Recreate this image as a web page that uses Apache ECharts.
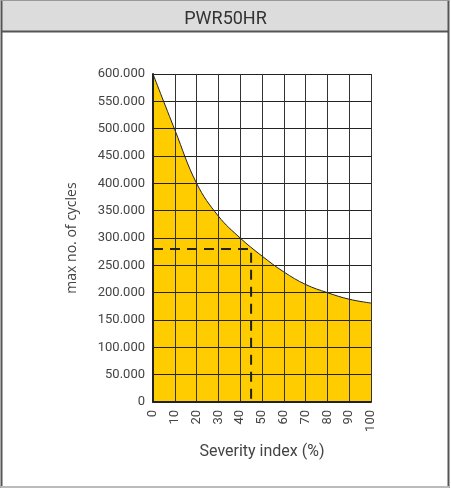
<!DOCTYPE html>
<html>
<head>
<meta charset="utf-8">
<script src="https://cdn.jsdelivr.net/npm/echarts@6/dist/echarts.min.js"></script>
<style>
  html, body { margin: 0; padding: 0; background: #fff; }
  #chart { width: 451px; height: 488px; }
</style>
</head>
<body>
<div id="chart"></div>
<script>
// severity index (%) and max number of cycles
const severity = [0, 10, 20, 30, 40, 50, 60, 70, 80, 90, 100];
const maxCycles = [600000, 498000, 400000, 340000, 300000, 267000, 238000, 215000, 200000, 188000, 181000];
// dashed reading guide: 45 % -> 280.000 cycles
const guideX = [0, 45, 45];
const guideY = [280000, 280000, 0];

const chart = echarts.init(document.getElementById('chart'));

// 600000 -> "600.000"
const fmtDots = v => String(v).replace(/\B(?=(\d{3})+(?!\d))/g, '.');

const option = {
  animation: false,
  title: {
    text: 'PWR50HR',
    left: 'center',
    top: 5,
    textStyle: { fontFamily: 'Roboto', fontSize: 18, fontWeight: 'normal', color: '#333' }
  },
  graphic: [
    // title band
    { type: 'rect', z: -10, shape: { x: 1, y: 0, width: 448, height: 31 },
      style: { fill: '#dcdcdc', stroke: null } },
    { type: 'line', z: -9, shape: { x1: 1, y1: 31.5, x2: 449, y2: 31.5 },
      style: { stroke: '#555', lineWidth: 2 } },
    // outer frame
    { type: 'line', z: -9, shape: { x1: 1.5, y1: 0, x2: 1.5, y2: 488 },
      style: { stroke: '#555', lineWidth: 2 } },
    { type: 'line', z: -9, shape: { x1: 448.5, y1: 0, x2: 448.5, y2: 488 },
      style: { stroke: '#555', lineWidth: 2 } },
    { type: 'line', z: -9, shape: { x1: 1, y1: 0.5, x2: 449, y2: 0.5 },
      style: { stroke: '#999', lineWidth: 1 } },
    { type: 'line', z: -9, shape: { x1: 1, y1: 487, x2: 449, y2: 487 },
      style: { stroke: '#bbb', lineWidth: 2 } }
  ],
  grid: { left: 153, right: 80, top: 74, bottom: 86 },
  xAxis: {
    type: 'value',
    min: 0, max: 100, interval: 10,
    z: 5,
    name: 'Severity index (%)',
    nameLocation: 'middle',
    nameGap: 42,
    nameTextStyle: { fontFamily: 'Roboto', fontSize: 16, color: '#444' },
    axisLine: { show: true, lineStyle: { color: '#222', width: 2 } },
    axisTick: { show: false },
    splitLine: { show: true, lineStyle: { color: '#333', width: 1 } },
    axisLabel: { rotate: 90, margin: 8, fontFamily: 'Roboto', fontSize: 13, color: '#444' }
  },
  yAxis: {
    type: 'value',
    min: 0, max: 600000, interval: 50000,
    z: 5,
    name: 'max no. of cycles',
    nameLocation: 'middle',
    nameGap: 74,
    nameTextStyle: { fontFamily: 'Open Sans', fontSize: 14, color: '#444' },
    axisLine: { show: true, lineStyle: { color: '#222', width: 2 } },
    axisTick: { show: false },
    splitLine: { show: true, lineStyle: { color: '#222', width: 1 } },
    axisLabel: { margin: 8, fontFamily: 'Roboto', fontSize: 13, color: '#444', formatter: fmtDots }
  },
  series: [
    {
      type: 'line',
      data: severity.map((s, i) => [s, maxCycles[i]]),
      smooth: 0.4,
      symbol: 'none',
      lineStyle: { color: '#222', width: 1 },
      areaStyle: { color: '#ffcc00', opacity: 1 }
    },
    {
      type: 'line',
      z: 6,
      data: guideX.map((g, i) => [g, guideY[i]]),
      symbol: 'none',
      lineStyle: { color: '#222', width: 2, type: [10, 7] }
    }
  ]
};

chart.setOption(option);
</script>
</body>
</html>
